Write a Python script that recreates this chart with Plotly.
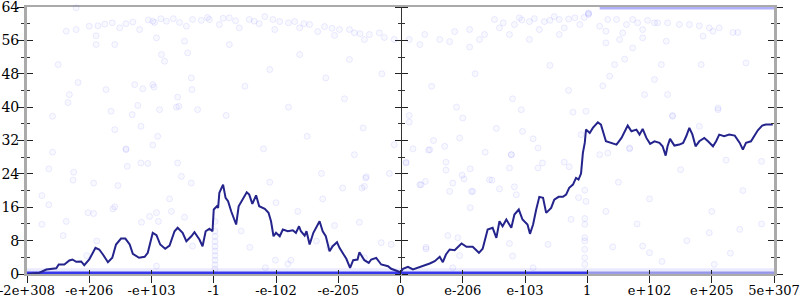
import plotly.graph_objects as go

# x positions use the chart's evenly spaced float-order scale: -6 (-2e+308) ... 0 ... 6 (5e+307)
tick_pos = [-6, -5, -4, -3, -2, -1, 0, 1, 2, 3, 4, 5, 6]
tick_labels = ["-2e+308", "-e+206", "-e+103", "-1", "-e-102", "-e-205", "0",
               "e-206", "e-103", "1", "e+102", "e+205", "5e+307"]
y_ticks = [0, 8, 16, 24, 32, 40, 48, 56, 64]

# main (running) line
line_x = [-5.99, -5.80, -5.69, -5.53, -5.49, -5.40, -5.32, -5.27, -5.21, -5.13, -5.08, -5.00,
          -4.90, -4.84, -4.78, -4.70, -4.63, -4.57, -4.49, -4.42, -4.35, -4.30, -4.20, -4.11,
          -4.06, -3.98, -3.92, -3.86, -3.78, -3.71, -3.63, -3.58, -3.50, -3.44, -3.36, -3.31,
          -3.23, -3.18, -3.13, -3.07, -3.02, -3.00, -2.95, -2.93, -2.91, -2.85, -2.81, -2.77,
          -2.72, -2.64, -2.60, -2.53, -2.47, -2.43, -2.38, -2.32, -2.27, -2.18, -2.12, -2.08,
          -2.04, -2.00, -1.94, -1.89, -1.81, -1.73, -1.68, -1.63, -1.60, -1.54, -1.51, -1.46,
          -1.40, -1.30, -1.25, -1.20, -1.14, -1.09, -1.02, -0.98, -0.87, -0.81, -0.76, -0.69,
          -0.66, -0.58, -0.51, -0.47, -0.39, -0.31, -0.20, -0.15, -0.07, 0.00, 0.04, 0.12,
          0.20, 0.28, 0.36, 0.47, 0.55, 0.63, 0.68, 0.73, 0.79, 0.87, 0.98, 1.06, 1.16, 1.26,
          1.32, 1.40, 1.48, 1.54, 1.59, 1.64, 1.70, 1.78, 1.83, 1.90, 1.96, 2.04, 2.08, 2.13,
          2.18, 2.23, 2.29, 2.34, 2.42, 2.47, 2.54, 2.61, 2.66, 2.71, 2.77, 2.82, 2.86, 2.90,
          2.93, 2.96, 2.98, 3.04, 3.09, 3.17, 3.22, 3.30, 3.47, 3.55, 3.65, 3.71, 3.79, 3.84,
          3.89, 3.95, 4.01, 4.08, 4.16, 4.21, 4.26, 4.29, 4.33, 4.40, 4.48, 4.54, 4.59, 4.64,
          4.69, 4.74, 4.80, 4.88, 4.94, 5.02, 5.07, 5.12, 5.20, 5.28, 5.37, 5.45, 5.50, 5.55,
          5.63, 5.69, 5.74, 5.81, 5.87, 5.98]
line_y = [0.0, 0.3, 1.08, 1.39, 2.28, 2.28, 3.23, 3.47, 2.92, 3.0, 2.11, 3.47,
          6.28, 5.87, 4.67, 2.83, 3.88, 7.07, 8.50, 8.50, 7.07, 4.84, 3.88, 4.12,
          5.08, 9.87, 9.29, 7.07, 6.04, 6.83, 10.25, 11.07, 9.87, 7.86, 9.05, 10.01,
          8.26, 6.66, 10.25, 10.83, 10.25, 15.45, 16.24, 15.86, 19.45, 21.44, 18.25, 17.44,
          15.04, 11.86, 16.24, 18.25, 19.59, 19.04, 16.81, 18.87, 16.24, 15.62, 14.66, 12.65,
          9.05, 9.87, 9.05, 10.66, 10.25, 10.49, 9.87, 11.45, 10.25, 9.22, 10.25, 7.07,
          9.87, 12.65, 10.25, 9.05, 5.46, 6.66, 7.62, 6.28, 3.64, 1.49, 3.31, 3.47,
          5.22, 3.31, 2.68, 3.47, 3.88, 2.28, 1.87, 1.25, 0.84, 0.43, 1.25, 1.72,
          1.08, 1.49, 1.87, 2.51, 3.07, 4.12, 2.83, 4.67, 5.87, 5.70, 7.31, 6.51, 6.51, 5.08,
          6.04, 10.66, 11.07, 8.67, 12.65, 11.45, 13.05, 11.07, 14.25, 15.45, 13.05, 11.86, 9.63, 11.86,
          15.45, 18.49, 18.25, 14.66, 15.86, 17.84, 18.49, 18.49, 19.04, 20.65, 21.44, 23.04, 22.63, 24.07,
          29.03, 31.43, 34.61, 33.82, 35.02, 36.36, 35.81, 31.81, 31.02, 32.62, 35.57, 34.20, 34.61, 33.41,
          34.78, 32.62, 31.19, 31.81, 31.43, 30.61, 28.38, 30.61, 32.38, 30.78, 31.02, 31.43, 33.01, 35.02,
          33.41, 30.61, 31.81, 32.62, 31.81, 30.61, 31.81, 33.41, 33.01, 33.41, 33.17, 31.43, 29.82, 31.43,
          31.81, 33.41, 34.44, 35.57, 35.81, 35.81]

# faint individual samples
pts_x = [-5.37, -5.21, -5.0, -4.86, -4.89, -4.63, -4.41, -4.51, -4.19, -3.98, -3.95, -3.76,
         -3.55, -3.44, -3.34, -4.89, -4.59, -3.92, -3.47, -3.42, -3.84, -3.79, -5.5, -5.18,
         -5.32, -5.34, -5.59, -4.73, -4.27, -4.14, -3.98, -3.96, -4.22, -4.31, -4.65, -4.59,
         -4.17, -3.90, -3.87, -3.58, -3.60, -3.56, -3.36, -3.35, -3.26, -3.98, -4.41, -5.21,
         -5.59, -5.65, -5.76, -5.65, -5.76, -5.25, -5.26, -4.93, -5.02, -4.93, -5.37, -5.42,
         -4.88, -5.04, -4.54, -4.62, -4.59, -4.39, -4.41, -4.17, -4.06, -4.16, -4.03, -3.92,
         -3.89, -3.92, -3.71, -3.68, -3.58, -3.52, -3.36, -3.47, -3.34,
         -2.98, -2.98, -2.98, -2.98, -2.98, -2.98, -2.98, -2.98, -2.98, -2.98,
         -2.10, -2.00, -1.65, -1.25, -1.27, -0.55, -0.58, -0.93, -2.56, -2.42, -2.01, -1.76,
         -1.35, -1.14, -0.31, -0.18, -0.15, -0.58, -1.81, -2.17,
         -3.07, -2.75, -2.43, -2.18, -1.94, -1.70, -1.46, -1.22, -0.98, -0.74, -0.50, -0.26,
         -0.10, -2.91, -2.59, -2.27, -2.02, -1.62, -1.33, -1.06, -0.82, -0.58, -0.34, -2.75,
         -1.62, -0.82, -2.10,
         -2.5, -1.8, -1.2, -0.6, -2.2, -1.5, -0.9, -0.3, -2.8, -0.1,
         -4.75, -4.30, -4.05, -3.65, -3.20, -2.85, -2.35, -2.05, -1.80, -1.55, -1.10, -0.65,
         -3.85, -3.10, -2.65,
         0.14, 0.39, 0.63, 0.87, 1.11, 1.35, 1.59, 1.83, 2.07, 2.31, 2.55, 2.80, 0.31, 0.79,
         1.27, 1.75, 2.23, 2.63, 2.88, 1.51, 1.91, 2.47, 1.11, 2.07, 2.55, 3.02, 3.02, 3.02,
         1.95, 2.15, 2.40, 2.70, 1.65, 2.95,
         3.20, 3.33, 3.30, 3.47, 3.63, 3.57, 3.73, 3.81, 3.89, 3.97, 4.08, 3.30, 3.52, 3.73,
         3.60, 3.44, 4.13, 4.29, 4.48, 4.64, 4.80, 4.96, 5.12, 5.34, 5.42, 5.02, 4.86, 4.27,
         3.89, 3.25, 3.36, 4.19, 4.83, 5.55, 3.92, 4.29, 4.08, 5.10, 4.37, 3.68,
         0.14, 0.14, 1.00, 1.54, 1.96, 1.94, 2.77, 2.98, 2.13, 2.21, 2.90, 0.53, 0.20, 0.45,
         0.71, 0.95, 0.09, 0.73, 1.12, 1.36, 1.78, 1.75, 2.21, 2.28, 2.63, 2.71, 0.73, 0.33,
         0.40, 0.84, 0.99, 1.02, 0.79, 1.14, 1.47, 1.59, 1.83, 1.86, 2.96, 2.86, 2.98, 1.12,
         2.74, 0.76, 0.92, 0.41, 0.95, 1.75, 1.80, 2.13, 0.84,
         2.96, 2.96, 2.96, 2.96, 2.96, 2.96, 2.96,
         4.37, 4.80, 5.10, 5.23, 3.68, 3.20, 3.33, 4.96, 5.45, 5.04, 2.37, 3.41, 3.89, 4.00,
         -0.74, 0.47, 0.09, -0.56, -0.62, 0.31, -1.06, -0.66, 0.41, 1.43, 1.78, 1.16,
         0.5, 1.2, 1.8, 2.4, 0.9, 2.7,
         3.5, 4.0, 4.5, 5.0, 5.5, 5.8, 3.8, 4.6, 5.3, 4.2, 5.8, 3.3]
pts_y = [58.2, 58.6, 59.4, 59.5, 57.1, 60.2, 60.0, 59.0, 58.6, 60.6, 60.3, 60.6,
         60.3, 59.4, 61.0, 55.0, 55.0, 56.6, 55.8, 53.0, 52.6, 51.0, 50.2, 45.9,
         43.0, 41.1, 37.8, 44.2, 45.4, 44.4, 45.4, 44.8, 40.4, 38.2, 39.0, 34.6,
         35.4, 33.0, 39.4, 42.4, 40.0, 40.2, 47.0, 44.2, 39.4, 30.9, 30.0, 63.8,
         29.2, 25.2, 18.8, 16.6, 11.9, 24.4, 22.5, 21.8, 14.7, 14.5, 12.6, 9.2,
         7.9, 4.4, 21.2, 15.6, 16.1, 25.8, 29.8, 26.6, 26.5, 12.4, 13.8, 14.7,
         12.6, 1.9, 18.0, 15.0, 26.6, 23.4, 21.8, 13.6, 6.7,
         1.2, 2.2, 3.3, 4.4, 5.5, 6.6, 7.8, 9.0, 10.3, 12.6,
         22.0, 17.1, 15.0, 18.0, 24.1, 23.3, 21.0, 20.6, 10.3, 6.4, 3.3, 3.3,
         7.9, 6.3, 7.5, 24.1, 7.1, 3.9, 2.4, 1.5,
         61.0, 61.4, 61.0, 61.7, 60.5, 60.5, 59.8, 59.3, 58.6, 57.8, 57.4, 56.7,
         56.2, 59.8, 59.0, 60.0, 58.6, 59.0, 58.1, 57.2, 58.6, 56.2, 57.8, 55.0,
         52.6, 51.4, 49.0,
         45.0, 40.0, 47.0, 35.0, 30.0, 33.0, 42.0, 48.0, 38.0, 31.0,
         59.9, 60.4, 60.9, 61.2, 60.8, 61.3, 60.6, 61.0, 60.2, 60.0, 58.9, 57.6,
         61.2, 61.5, 60.7,
         56.2, 57.4, 56.2, 58.1, 58.6, 57.4, 59.0, 59.8, 60.5, 60.5, 61.0, 61.4, 55.0, 55.7,
         56.2, 57.4, 58.6, 59.0, 59.8, 61.0, 61.4, 61.7, 54.4, 56.2, 57.4, 62.4, 62.2, 62.6,
         60.9, 61.2, 60.8, 61.1, 60.2, 61.5,
         59.4, 61.0, 58.2, 61.0, 59.8, 57.8, 61.0, 60.2, 58.6, 60.8, 60.2, 55.4, 56.2, 54.2,
         51.5, 50.2, 60.2, 60.2, 59.8, 59.8, 59.5, 59.0, 59.0, 57.9, 57.9, 58.2, 57.0, 55.8,
         56.6, 45.1, 47.4, 50.2, 50.2, 50.6, 43.0, 43.0, 46.6, 39.8, 37.8, 30.2,
         38.0, 36.4, 37.4, 34.9, 34.2, 39.4, 38.8, 39.0, 32.4, 30.2, 33.4, 32.0, 30.0, 29.7,
         30.6, 32.6, 26.8, 26.8, 25.2, 29.2, 28.6, 25.4, 25.4, 26.6, 26.8, 25.7, 24.9, 21.4,
         22.2, 21.8, 23.7, 22.8, 19.8, 19.8, 22.5, 20.4, 20.9, 19.0, 20.1, 18.3, 17.4, 15.9,
         13.1, 9.2, 8.7, 6.4, 4.4, 7.3, 4.3, 1.5, 1.5,
         2.3, 3.9, 5.9, 7.9, 8.7, 11.9, 13.3,
         38.0, 35.4, 39.4, 27.3, 30.0, 28.6, 29.0, 9.9, 10.7, 2.3, 7.1, 6.5, 6.7, 5.1,
         28.6, 29.8, 26.6, 23.0, 20.6, 21.4, 11.6, 12.4, 6.0, 22.6, 28.6, 19.8,
         45.0, 48.0, 42.0, 50.0, 40.0, 44.0,
         22.0, 18.0, 25.0, 15.0, 20.0, 12.0, 12.0, 8.0, 5.0, 3.0, 27.0, 15.0]

# dense bands of samples
zero_band_x = [-6, 3]
zero_band_y = [0, 0]
zero_band2_x = [3, 6]
zero_band2_y = [0, 0]
low_band_x = [-6, 6]
low_band_y = [0.8, 0.8]
top_band_x = [3.2, 6]
top_band_y = [64, 64]

fig = go.Figure()
fig.add_trace(go.Scatter(x=low_band_x, y=low_band_y, mode="lines",
                         line=dict(color="rgba(80,80,255,0.12)", width=5), hoverinfo="skip"))
fig.add_trace(go.Scatter(x=pts_x, y=pts_y, mode="markers", cliponaxis=False,
                         marker=dict(size=6, color="rgba(60,60,255,0.035)",
                                     line=dict(color="rgba(60,60,255,0.09)", width=1)),
                         hoverinfo="skip"))
fig.add_trace(go.Scatter(x=zero_band_x, y=zero_band_y, mode="lines",
                         line=dict(color="rgb(55,55,235)", width=5), hoverinfo="skip"))
fig.add_trace(go.Scatter(x=zero_band2_x, y=zero_band2_y, mode="lines",
                         line=dict(color="rgba(80,80,215,0.55)", width=5), hoverinfo="skip"))
fig.add_trace(go.Scatter(x=top_band_x, y=top_band_y, mode="lines",
                         line=dict(color="rgba(80,80,240,0.45)", width=5), hoverinfo="skip"))
fig.add_trace(go.Scatter(x=line_x, y=line_y, mode="lines",
                         line=dict(color="#24248c", width=2), hoverinfo="skip"))
# helper traces so that the extra tick axes are drawn
for xa, ya in [("x2", "y"), ("x", "y2"), ("x", "y3"), ("x", "y4"), ("x", "y5"), ("x", "y6")]:
    fig.add_trace(go.Scatter(x=[None], y=[None], xaxis=xa, yaxis=ya, showlegend=False,
                             hoverinfo="skip"))

font = dict(family="DejaVu Serif", size=14, color="black")
xfont = dict(family="DejaVu Serif", size=13, color="black")
minor_in = dict(ticks="inside", ticklen=3, dtick=4, tickcolor="#333", tickwidth=1)
minor_out = dict(ticks="outside", ticklen=3, dtick=4, tickcolor="#333", tickwidth=1)
common_y = dict(range=[0, 64], tickvals=y_ticks, showgrid=False, zeroline=False,
                tickcolor="#222", tickwidth=1, fixedrange=True, automargin=False)

fig.update_layout(
    width=800, height=300,
    margin=dict(l=27, r=26, t=7, b=26, autoexpand=False),
    paper_bgcolor="white", plot_bgcolor="white",
    showlegend=False, font=font,
    xaxis=dict(range=[-6, 6], tickvals=tick_pos, ticktext=tick_labels, showgrid=False,
               zeroline=False, showline=True, linecolor="#aaaaaa", linewidth=2, mirror=True,
               ticks="outside", ticklen=7, tickcolor="#222", tickwidth=1, layer="below traces",
               tickfont=xfont, automargin=False, ticklabeloverflow="allow",
               ticklabelstandoff=-4),
    xaxis2=dict(range=[-6, 6], overlaying="x", matches="x", tickvals=tick_pos,
                showticklabels=False, showgrid=False, zeroline=False, showline=False,
                ticks="inside", ticklen=4, tickcolor="#222", tickwidth=1, automargin=False),
    yaxis=dict(**common_y, showline=True, linecolor="#aaaaaa", linewidth=3, ticks="outside",
               ticklen=7, tickfont=font, minor=minor_out, layer="below traces",
               ticklabeloverflow="allow", ticklabelstandoff=-5),
    yaxis2=dict(**common_y, overlaying="y", side="left", showline=False, ticks="inside",
                ticklen=6, showticklabels=False, minor=minor_in),
    yaxis3=dict(**common_y, overlaying="y", anchor="free", position=0.5, side="left",
                showline=True, linecolor="#333", linewidth=1, ticks="outside", ticklen=6,
                showticklabels=False, minor=minor_out, layer="below traces"),
    yaxis4=dict(**common_y, overlaying="y", anchor="free", position=0.5, side="right",
                showline=False, ticks="outside", ticklen=6, showticklabels=False,
                minor=minor_out),
    yaxis5=dict(**common_y, overlaying="y", side="right", showline=True, linecolor="#aaaaaa",
                linewidth=3, ticks="outside", ticklen=6, showticklabels=False, minor=minor_out,
                layer="below traces"),
    yaxis6=dict(**common_y, overlaying="y", side="right", showline=False, ticks="inside",
                ticklen=6, showticklabels=False, minor=minor_in),
)

fig.write_html("out.html")
